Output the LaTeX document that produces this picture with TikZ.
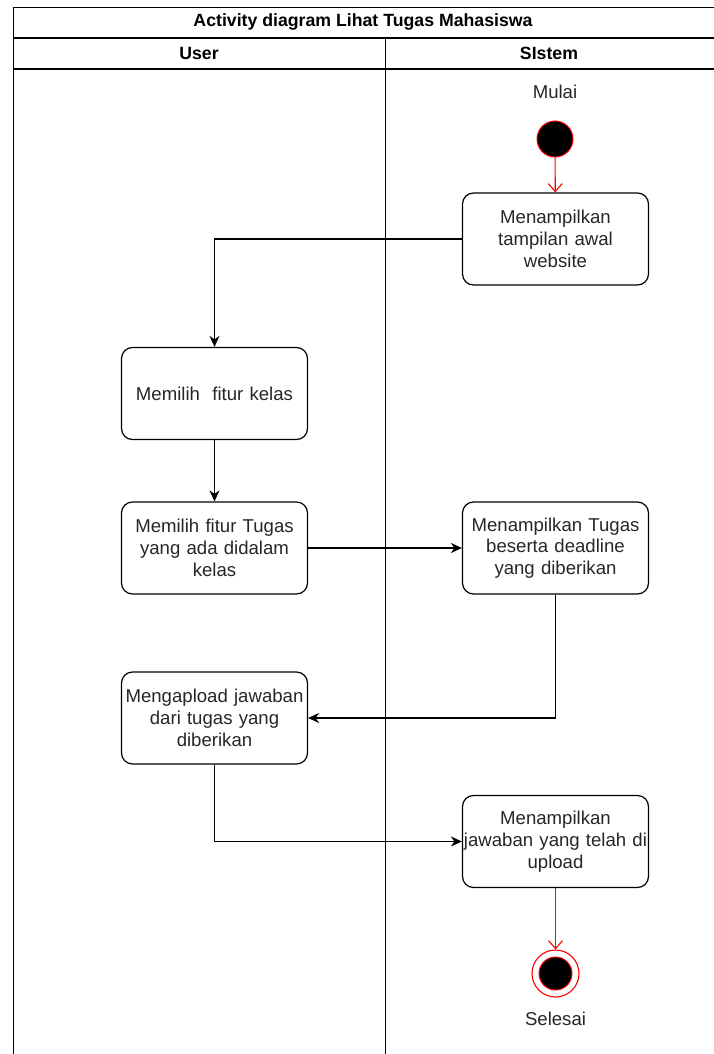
\documentclass[tikz,border=0pt]{standalone}
\usepackage{fontspec}
\setmainfont{Liberation Sans}
\usetikzlibrary{arrows.meta}
\begin{document}
\begin{tikzpicture}[x=1pt,y=-1pt,
  lane/.style={line width=1.3pt, draw=black},
  act/.style={draw=black, line width=1.2pt, rounded corners=11pt, minimum width=186pt, minimum height=92pt, align=center, text width=186pt, font=\fontsize{18.6}{21.7}\selectfont, inner sep=0pt, text=black!85},
  lbl/.style={font=\fontsize{18.6}{21}\selectfont, inner sep=0pt, text=black!85},
  hdr/.style={font=\bfseries\fontsize{17.7}{20}\selectfont, inner sep=0pt},
  flow/.style={draw=black, line width=1.2pt, -{Stealth[length=11pt,width=10pt,inset=3.5pt]}},
  redflow/.style={draw=red, line width=1.1pt, -{Straight Barb[length=8pt,width=14pt]}},
  startnode/.style={circle, fill=black, draw=red, line width=1pt, minimum size=36pt, inner sep=0pt},
  endring/.style={circle, draw=red, line width=1.1pt, minimum size=47pt, inner sep=0pt},
  endcore/.style={circle, fill=black, draw=red, line width=1pt, minimum size=33pt, inner sep=0pt}
]
\useasboundingbox (0,0) rectangle (713,1054);
% frame
\draw[lane] (714,7.5) -- (13.5,7.5) -- (13.5,1055);
\draw[lane] (13.5,38) -- (714,38);
\draw[lane] (13.5,69) -- (714,69);
\draw[lane] (385.5,38) -- (385.5,1055);
\node[hdr] (title) at (363,22) {Activity diagram Lihat Tugas Mahasiswa};
\node[hdr] (user) at (199,53) {User};
\node[hdr] (sistem) at (549,53) {SIstem};

% nodes
\node[lbl] (mulai) at (555,92) {Mulai};
\node[startnode] (start) at (555,139) {};
\node[act] (a1) at (555.5,239) {Menampilkan\\tampilan awal\\website};
\node[act] (a2) at (214.5,393.5) {Memilih\ \ fitur kelas};
\node[act] (a3) at (214.5,548) {Memilih fitur Tugas\\yang ada didalam\\kelas};
\node[act] (a4) at (555.5,548) {Menampilkan Tugas\\beserta deadline\\yang diberikan};
\node[act] (a5) at (214.5,718) {Mengapload jawaban\\dari tugas yang\\diberikan};
\node[act] (a6) at (555.5,841.5) {Menampilkan\\jawaban yang telah di\\upload};
\node[endring] (fin) at (555.5,973.5) {};
\node[endcore] (fincore) at (555.5,973.5) {};
\node[lbl] (selesai) at (555.5,1019) {Selesai};

% connectors
\draw[redflow] (start) -- (a1);
\draw[flow] (a1.west) -| (a2.north);
\draw[flow] (a2) -- (a3);
\draw[flow] (a3) -- (a4);
\draw[flow] (a4.south) |- (a5.east);
\draw[flow] (a5.south) |- (a6.west);
\draw[redflow] (a6) -- (fin);
\end{tikzpicture}
\end{document}
